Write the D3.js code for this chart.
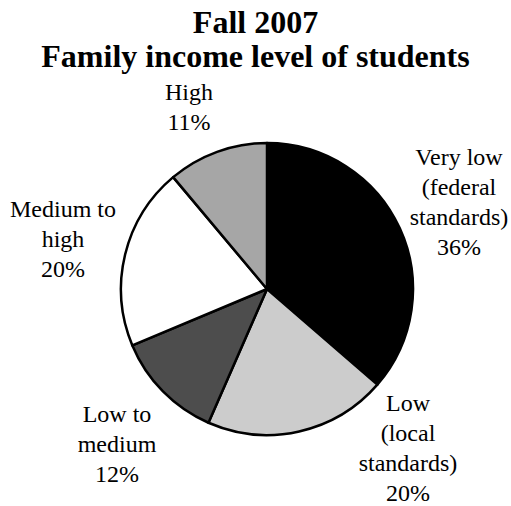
<!DOCTYPE html>
<html>
<head>
<meta charset="utf-8">
<script src="https://cdn.jsdelivr.net/npm/d3@7"></script>
<style>
  body { margin: 0; background: #fff; }
</style>
</head>
<body>
<script>
/* pie of family income levels */

var categories = ["Very low (federal standards)", "Low (local standards)", "Low to medium", "Medium to high", "High"];
var percents = [36, 20, 12, 20, 11];
var labelLines = [
    ["Very low", "(federal", "standards)", "36%"],
    ["Low", "(local", "standards)", "20%"],
    ["Low to", "medium", "12%"],
    ["Medium to", "high", "20%"],
    ["High", "11%"]
];
var fills = ["#000000", "#cccccc", "#4d4d4d", "#ffffff", "#a6a6a6"];
var titleLines = ["Fall 2007", "Family income level of students"];

var width = 511, height = 506;
var cx = 267, cy = 289, r = 146;
var serif = "'Liberation Serif', 'Times New Roman', Times, serif";

var svg = d3.select("body").append("svg")
    .attr("width", width)
    .attr("height", height);

svg.selectAll("text.title")
    .data(titleLines)
    .enter()
    .append("text")
    .attr("class", "title")
    .attr("x", width / 2)
    .attr("y", function(d, i) { return 33 + i * 34; })
    .attr("text-anchor", "middle")
    .attr("font-family", serif)
    .attr("font-size", 32)
    .attr("font-weight", "bold")
    .text(function(d) { return d; });

var data = categories.map(function(c, i) {
    return { name: c, value: percents[i], lines: labelLines[i], fill: fills[i] };
});

var pie = d3.pie().sort(null).value(function(d) { return d.value; });
var arc = d3.arc().innerRadius(0).outerRadius(r);

var g = svg.append("g").attr("transform", "translate(" + cx + "," + cy + ")");

var arcs = pie(data);

g.selectAll("path")
    .data(arcs)
    .enter()
    .append("path")
    .attr("d", arc)
    .attr("fill", function(d) { return d.data.fill; })
    .attr("stroke", "#000")
    .attr("stroke-width", 2.5)
    .attr("stroke-linejoin", "round");

// where each label block starts (centre x, first baseline), page pixels
var labelPos = [[459, 165], [408, 411], [117, 422], [63, 217], [189, 100]];
var lineH = 30;

arcs.forEach(function(a, i) {
    var t = svg.append("text")
        .attr("text-anchor", "middle")
        .attr("font-family", serif)
        .attr("font-size", 24);
    a.data.lines.forEach(function(line, j) {
        t.append("tspan")
            .attr("x", labelPos[i][0])
            .attr("y", labelPos[i][1] + j * lineH)
            .text(line);
    });
});
</script>
</body>
</html>
